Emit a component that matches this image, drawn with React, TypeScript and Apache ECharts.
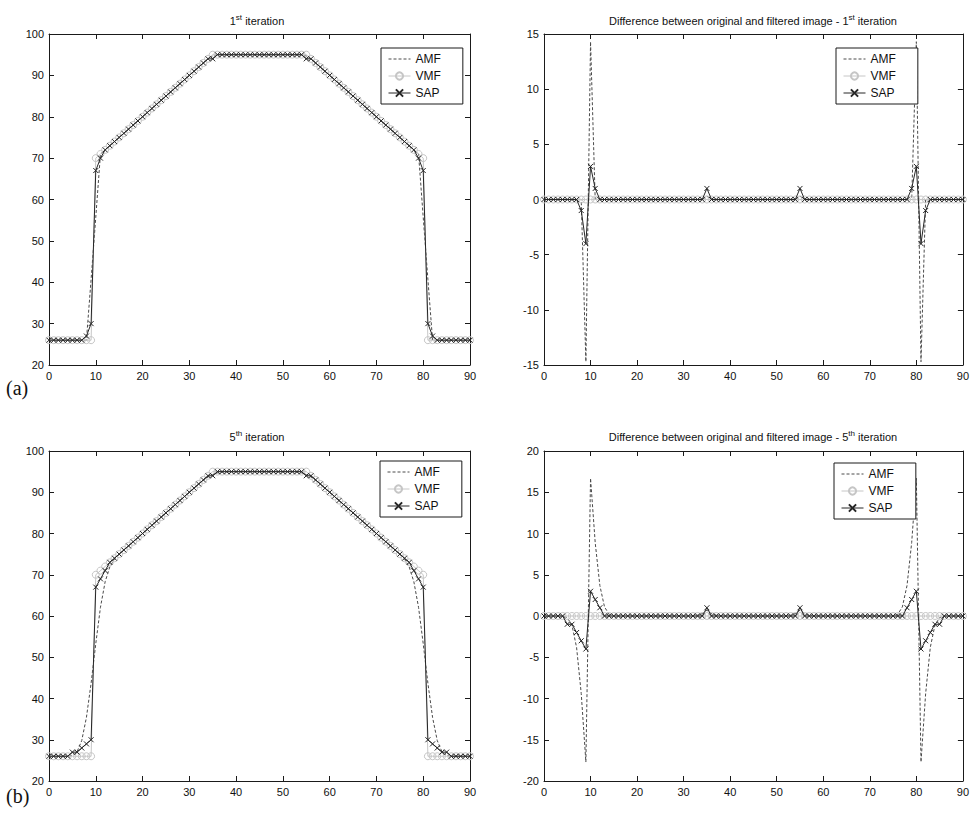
import React, { useEffect, useRef } from 'react';
import * as echarts from 'echarts';

// sample index along the profile
const X = Array.from({ length: 91 }, (_, i) => i);

// ---------- 1st iteration : filtered profiles ----------
const AMF_1 = [
  26, 26, 26, 26, 26, 26, 26, 26, 26, 40.7,
  55.7, 71, 72, 73, 74, 75, 76, 77, 78, 79,
  80, 81, 82, 83, 84, 85, 86, 87, 88, 89,
  90, 91, 92, 93, 94, 94.7, 95, 95, 95, 95,
  95, 95, 95, 95, 95, 95, 95, 95, 95, 95,
  95, 95, 95, 95, 95, 94.7, 94, 93, 92, 91,
  90, 89, 88, 87, 86, 85, 84, 83, 82, 81,
  80, 79, 78, 77, 76, 75, 74, 73, 72, 71,
  55.7, 40.7, 26, 26, 26, 26, 26, 26, 26, 26,
  26,
];
const VMF_1 = [
  26, 26, 26, 26, 26, 26, 26, 26, 26, 26,
  70, 71, 72, 73, 74, 75, 76, 77, 78, 79,
  80, 81, 82, 83, 84, 85, 86, 87, 88, 89,
  90, 91, 92, 93, 94, 95, 95, 95, 95, 95,
  95, 95, 95, 95, 95, 95, 95, 95, 95, 95,
  95, 95, 95, 95, 95, 95, 94, 93, 92, 91,
  90, 89, 88, 87, 86, 85, 84, 83, 82, 81,
  80, 79, 78, 77, 76, 75, 74, 73, 72, 71,
  70, 26, 26, 26, 26, 26, 26, 26, 26, 26,
  26,
];
const SAP_1 = [
  26, 26, 26, 26, 26, 26, 26, 26, 27, 30,
  67, 70, 72, 73, 74, 75, 76, 77, 78, 79,
  80, 81, 82, 83, 84, 85, 86, 87, 88, 89,
  90, 91, 92, 93, 94, 94, 95, 95, 95, 95,
  95, 95, 95, 95, 95, 95, 95, 95, 95, 95,
  95, 95, 95, 95, 95, 94, 94, 93, 92, 91,
  90, 89, 88, 87, 86, 85, 84, 83, 82, 81,
  80, 79, 78, 77, 76, 75, 74, 73, 72, 70,
  67, 30, 27, 26, 26, 26, 26, 26, 26, 26,
  26,
];

// ---------- 1st iteration : differences ----------
const D_AMF_1 = [
  0, 0, 0, 0, 0, 0, 0, 0, 0, -14.7,
  14.3, 0, 0, 0, 0, 0, 0, 0, 0, 0,
  0, 0, 0, 0, 0, 0, 0, 0, 0, 0,
  0, 0, 0, 0, 0, 0.3, 0, 0, 0, 0,
  0, 0, 0, 0, 0, 0, 0, 0, 0, 0,
  0, 0, 0, 0, 0, 0.3, 0, 0, 0, 0,
  0, 0, 0, 0, 0, 0, 0, 0, 0, 0,
  0, 0, 0, 0, 0, 0, 0, 0, 0, 0,
  14.3, -14.7, 0, 0, 0, 0, 0, 0, 0, 0,
  0,
];
const D_VMF_1 = [
  0, 0, 0, 0, 0, 0, 0, 0, 0, 0,
  0, 0, 0, 0, 0, 0, 0, 0, 0, 0,
  0, 0, 0, 0, 0, 0, 0, 0, 0, 0,
  0, 0, 0, 0, 0, 0, 0, 0, 0, 0,
  0, 0, 0, 0, 0, 0, 0, 0, 0, 0,
  0, 0, 0, 0, 0, 0, 0, 0, 0, 0,
  0, 0, 0, 0, 0, 0, 0, 0, 0, 0,
  0, 0, 0, 0, 0, 0, 0, 0, 0, 0,
  0, 0, 0, 0, 0, 0, 0, 0, 0, 0,
  0,
];
const D_SAP_1 = [
  0, 0, 0, 0, 0, 0, 0, 0, -1, -4,
  3, 1, 0, 0, 0, 0, 0, 0, 0, 0,
  0, 0, 0, 0, 0, 0, 0, 0, 0, 0,
  0, 0, 0, 0, 0, 1, 0, 0, 0, 0,
  0, 0, 0, 0, 0, 0, 0, 0, 0, 0,
  0, 0, 0, 0, 0, 1, 0, 0, 0, 0,
  0, 0, 0, 0, 0, 0, 0, 0, 0, 0,
  0, 0, 0, 0, 0, 0, 0, 0, 0, 1,
  3, -4, -1, 0, 0, 0, 0, 0, 0, 0,
  0,
];

// ---------- 5th iteration : filtered profiles ----------
const AMF_5 = [
  26, 26, 26, 26, 26, 26.2, 27.1, 29.8, 35.4, 43.7,
  53.3, 62.1, 68.3, 71.9, 73.8, 75, 76, 77, 78, 79,
  80, 81, 82, 83, 84, 85, 86, 87, 88, 89,
  90, 91, 92, 92.9, 93.7, 94.3, 94.7, 94.9, 95, 95,
  95, 95, 95, 95, 95, 95, 95, 95, 95, 95,
  95, 95, 95, 94.9, 94.7, 94.3, 93.7, 92.9, 92, 91,
  90, 89, 88, 87, 86, 85, 84, 83, 82, 81,
  80, 79, 78, 77, 76, 75, 73.8, 71.9, 68.3, 62.1,
  53.3, 43.7, 35.4, 29.8, 27.1, 26.2, 26, 26, 26, 26,
  26,
];
const VMF_5 = [
  26, 26, 26, 26, 26, 26, 26, 26, 26, 26,
  70, 71, 72, 73, 74, 75, 76, 77, 78, 79,
  80, 81, 82, 83, 84, 85, 86, 87, 88, 89,
  90, 91, 92, 93, 94, 95, 95, 95, 95, 95,
  95, 95, 95, 95, 95, 95, 95, 95, 95, 95,
  95, 95, 95, 95, 95, 95, 94, 93, 92, 91,
  90, 89, 88, 87, 86, 85, 84, 83, 82, 81,
  80, 79, 78, 77, 76, 75, 74, 73, 72, 71,
  70, 26, 26, 26, 26, 26, 26, 26, 26, 26,
  26,
];
const SAP_5 = [
  26, 26, 26, 26, 26, 27, 27, 28, 29, 30,
  67, 69, 71, 73, 74, 75, 76, 77, 78, 79,
  80, 81, 82, 83, 84, 85, 86, 87, 88, 89,
  90, 91, 92, 93, 94, 94, 95, 95, 95, 95,
  95, 95, 95, 95, 95, 95, 95, 95, 95, 95,
  95, 95, 95, 95, 95, 94, 94, 93, 92, 91,
  90, 89, 88, 87, 86, 85, 84, 83, 82, 81,
  80, 79, 78, 77, 76, 75, 74, 73, 71, 69,
  67, 30, 29, 28, 27, 27, 26, 26, 26, 26,
  26,
];

// ---------- 5th iteration : differences ----------
const D_AMF_5 = [
  0, 0, 0, 0, 0, -0.2, -1.1, -3.8, -9.4, -17.7,
  16.7, 8.9, 3.7, 1.1, 0.2, 0, 0, 0, 0, 0,
  0, 0, 0, 0, 0, 0, 0, 0, 0, 0,
  0, 0, 0, 0.1, 0.3, 0.7, 0.3, 0.1, 0, 0,
  0, 0, 0, 0, 0, 0, 0, 0, 0, 0,
  0, 0, 0, 0.1, 0.3, 0.7, 0.3, 0.1, 0, 0,
  0, 0, 0, 0, 0, 0, 0, 0, 0, 0,
  0, 0, 0, 0, 0, 0, 0.2, 1.1, 3.7, 8.9,
  16.7, -17.7, -9.4, -3.8, -1.1, -0.2, 0, 0, 0, 0,
  0,
];
const D_VMF_5 = [
  0, 0, 0, 0, 0, 0, 0, 0, 0, 0,
  0, 0, 0, 0, 0, 0, 0, 0, 0, 0,
  0, 0, 0, 0, 0, 0, 0, 0, 0, 0,
  0, 0, 0, 0, 0, 0, 0, 0, 0, 0,
  0, 0, 0, 0, 0, 0, 0, 0, 0, 0,
  0, 0, 0, 0, 0, 0, 0, 0, 0, 0,
  0, 0, 0, 0, 0, 0, 0, 0, 0, 0,
  0, 0, 0, 0, 0, 0, 0, 0, 0, 0,
  0, 0, 0, 0, 0, 0, 0, 0, 0, 0,
  0,
];
const D_SAP_5 = [
  0, 0, 0, 0, 0, -1, -1, -2, -3, -4,
  3, 2, 1, 0, 0, 0, 0, 0, 0, 0,
  0, 0, 0, 0, 0, 0, 0, 0, 0, 0,
  0, 0, 0, 0, 0, 1, 0, 0, 0, 0,
  0, 0, 0, 0, 0, 0, 0, 0, 0, 0,
  0, 0, 0, 0, 0, 1, 0, 0, 0, 0,
  0, 0, 0, 0, 0, 0, 0, 0, 0, 0,
  0, 0, 0, 0, 0, 0, 0, 0, 1, 2,
  3, -4, -3, -2, -1, -1, 0, 0, 0, 0,
  0,
];

const TITLES = [
  { pre: '1', sup: 'st', post: ' iteration' },
  { pre: 'Difference between original and filtered image - 1', sup: 'st', post: ' iteration' },
  { pre: '5', sup: 'th', post: ' iteration' },
  { pre: 'Difference between original and filtered image - 5', sup: 'th', post: ' iteration' },
];
const PANEL_LABELS = ['(a)', '(b)'];

const SANS = '"Liberation Sans", Arial, Helvetica, sans-serif';
const AXIS_COLOR = '#1a1a1a';
const AMF_COLOR = '#4a4a4a';
const VMF_COLOR = '#c6c6c6';
const SAP_COLOR = '#262626';
const X_SYMBOL = 'path://M0,0L10,10M10,0L0,10';

export default function App() {
  const ref = useRef<HTMLDivElement>(null);

  useEffect(() => {
    if (!ref.current) return;
    const chart = echarts.init(ref.current, null, { renderer: 'svg' });

    const panels = [
      { grid: { left: 49, top: 34, width: 421, height: 331 }, yMin: 20, yMax: 100, yInt: 10, data: [AMF_1, VMF_1, SAP_1], legend: { left: 381, top: 48 }, titleX: 257, titleY: 21 },
      { grid: { left: 544, top: 34, width: 420, height: 331 }, yMin: -15, yMax: 15, yInt: 5, data: [D_AMF_1, D_VMF_1, D_SAP_1], legend: { left: 836, top: 48 }, titleX: 753, titleY: 21 },
      { grid: { left: 49, top: 451, width: 421, height: 330 }, yMin: 20, yMax: 100, yInt: 10, data: [AMF_5, VMF_5, SAP_5], legend: { left: 380, top: 461 }, titleX: 257, titleY: 437 },
      { grid: { left: 544, top: 451, width: 420, height: 330 }, yMin: -20, yMax: 20, yInt: 5, data: [D_AMF_5, D_VMF_5, D_SAP_5], legend: { left: 834, top: 463 }, titleX: 753, titleY: 437 },
    ];

    const grids: any[] = [];
    const xAxes: any[] = [];
    const yAxes: any[] = [];
    const series: any[] = [];
    const legends: any[] = [];
    const graphics: any[] = [];

    const axisCommon = (showLabel: boolean) => ({
      axisLine: { show: true, onZero: false, lineStyle: { color: AXIS_COLOR, width: 1 } },
      axisTick: { show: true, inside: true, length: 5, lineStyle: { color: AXIS_COLOR, width: 1 } },
      axisLabel: { show: showLabel, color: '#111', fontSize: 11, fontFamily: SANS, margin: 5 },
      splitLine: { show: false },
    });

    panels.forEach((p, i) => {
      grids.push({ ...p.grid, containLabel: false });
      xAxes.push({ type: 'value', gridIndex: i, position: 'bottom', min: 0, max: 90, interval: 10, ...axisCommon(true) });
      xAxes.push({ type: 'value', gridIndex: i, position: 'top', min: 0, max: 90, interval: 10, ...axisCommon(false) });
      yAxes.push({ type: 'value', gridIndex: i, position: 'left', min: p.yMin, max: p.yMax, interval: p.yInt, ...axisCommon(true) });
      yAxes.push({ type: 'value', gridIndex: i, position: 'right', min: p.yMin, max: p.yMax, interval: p.yInt, ...axisCommon(false) });

      const [amf, vmf, sap] = p.data;
      series.push({
        type: 'line', name: 'AMF', xAxisIndex: 2 * i, yAxisIndex: 2 * i,
        data: X.map((x, j) => [x, amf[j]]),
        symbol: 'none', lineStyle: { color: AMF_COLOR, width: 1, type: [3, 2] }, itemStyle: { color: AMF_COLOR },
        z: 2,
      });
      series.push({
        type: 'line', name: 'VMF', xAxisIndex: 2 * i, yAxisIndex: 2 * i,
        data: X.map((x, j) => [x, vmf[j]]),
        symbol: 'circle', symbolSize: 7, showAllSymbol: true,
        lineStyle: { color: VMF_COLOR, width: 1 },
        itemStyle: { color: 'rgba(255,255,255,0)', borderColor: VMF_COLOR, borderWidth: 1 },
        z: 3,
      });
      series.push({
        type: 'line', name: 'SAP', xAxisIndex: 2 * i, yAxisIndex: 2 * i,
        data: X.map((x, j) => [x, sap[j]]),
        symbol: X_SYMBOL, symbolSize: 5, showAllSymbol: true,
        lineStyle: { color: SAP_COLOR, width: 1 },
        itemStyle: { color: 'rgba(0,0,0,0)', borderColor: SAP_COLOR, borderWidth: 1 },
        z: 4,
      });

      legends.push({
        left: p.legend.left, top: p.legend.top, orient: 'vertical',
        data: [
          { name: 'AMF', itemStyle: { opacity: 0 }, lineStyle: { width: 1, color: AMF_COLOR, type: [3, 2] } },
          { name: 'VMF', lineStyle: { width: 1, color: VMF_COLOR } },
          { name: 'SAP', lineStyle: { width: 1, color: SAP_COLOR } },
        ],
        selectedMode: false,
        backgroundColor: '#fff', borderColor: AXIS_COLOR, borderWidth: 1, borderRadius: 0,
        padding: [5, 22, 5, 7], itemGap: 5, itemWidth: 22, itemHeight: 9,
        textStyle: { fontSize: 12, color: '#111', fontFamily: SANS },
      });

      const t = TITLES[i];
      graphics.push({
        type: 'text', x: p.titleX, y: p.titleY,
        style: {
          text: `{n|${t.pre}}{s|${t.sup}}{n|${t.post}}`,
          align: 'center', verticalAlign: 'middle',
          fill: '#111',
          rich: {
            n: { fontSize: 11, fontFamily: SANS, lineHeight: 16, fill: '#111' },
            s: { fontSize: 8, fontFamily: SANS, lineHeight: 8, verticalAlign: 'top', fill: '#111' },
          },
        },
      });
    });

    graphics.push({ type: 'text', x: 6, y: 388, style: { text: PANEL_LABELS[0], font: '20px "Liberation Serif", "Times New Roman", serif', fill: '#111', verticalAlign: 'middle' } });
    graphics.push({ type: 'text', x: 6, y: 796, style: { text: PANEL_LABELS[1], font: '20px "Liberation Serif", "Times New Roman", serif', fill: '#111', verticalAlign: 'middle' } });

    chart.setOption({
      animation: false,
      backgroundColor: '#fff',
      grid: grids,
      xAxis: xAxes,
      yAxis: yAxes,
      legend: legends,
      series,
      graphic: graphics,
    });

    return () => chart.dispose();
  }, []);

  return (
    <div
      ref={ref}
      style={{ position: 'absolute', left: 0, top: 0, width: 972, height: 816, background: '#fff' }}
    />
  );
}
